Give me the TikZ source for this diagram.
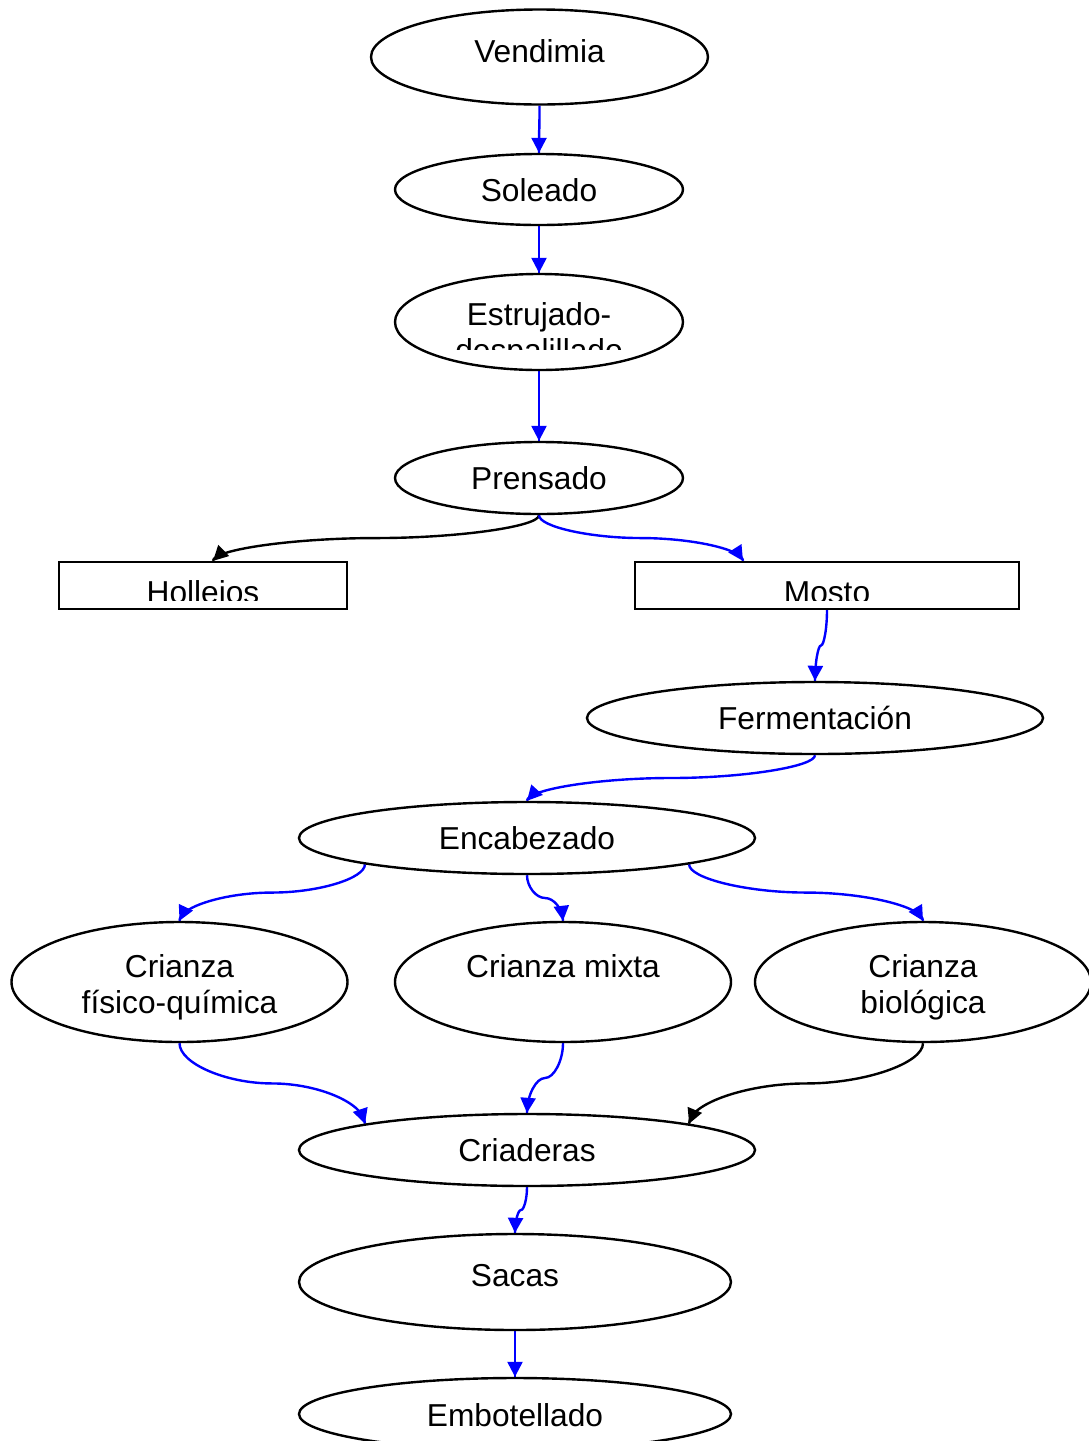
\documentclass[tikz,border=0pt]{standalone}
\usepackage{fontspec}
\setmainfont{Liberation Sans}
\usetikzlibrary{arrows.meta,calc,shapes.geometric,backgrounds}
\definecolor{conblue}{RGB}{0,0,255}
\tikzset{
  ell/.style 2 args={draw, fill=white, ellipse, line width=2.4pt, inner sep=0pt, minimum width=#1, minimum height=#2},
  boxnode/.style 2 args={draw, fill=white, rectangle, line width=2.2pt, inner sep=0pt, minimum width=#1, minimum height=#2},
  txt/.style={anchor=base, inner sep=0pt, align=center, font=\fontsize{31.7}{36}\selectfont},
  bluecon/.style={draw=conblue, line width=2.4pt},
  blackcon/.style={draw=black, line width=2.4pt},
  arrowhd/.style={-{Triangle[length=15pt,width=15pt]}, line cap=butt}
}
\newcommand\wconn[3]{%
  \draw[#1] let \p1=(#2), \p2=(#3) in
    (\p1) .. controls (\x1,{0.75*\y1+0.25*\y2}) and ({0.75*\x1+0.25*\x2},{0.5*\y1+0.5*\y2})
    .. ({0.5*\x1+0.5*\x2},{0.5*\y1+0.5*\y2})
    .. controls ({0.25*\x1+0.75*\x2},{0.5*\y1+0.5*\y2}) and (\x2,{0.25*\y1+0.75*\y2})
    .. coordinate[pos=0.85] (arrtmp) (\p2);
  \draw[#1, arrowhd] (arrtmp) -- (#3);}
\begin{document}
\begin{tikzpicture}[x=1pt,y=-1pt]
\useasboundingbox (0,0) rectangle (1088,1441);

% shapes
\node[ell={337pt}{95pt}] (ven) at (539.5,57) {};
\node[ell={288pt}{71pt}] (sol) at (539,189.5) {};
\node[ell={288pt}{96pt}] (est) at (539,322) {};
\node[ell={288pt}{72pt}] (pre) at (539,478) {};
\node[boxnode={288pt}{47pt}] (hol) at (203,585.5) {};
\node[boxnode={384pt}{47pt}] (mos) at (827,585.5) {};
\node[ell={456pt}{72pt}] (fer) at (815,718) {};
\node[ell={456pt}{72pt}] (enc) at (527,838) {};
\node[ell={336pt}{120pt}] (cfq) at (179.5,982) {};
\node[ell={336pt}{120pt}] (cmx) at (563,982) {};
\node[ell={336pt}{120pt}] (cbi) at (923,982) {};
\node[ell={456pt}{72pt}] (cri) at (527,1150) {};
\node[ell={432pt}{96pt}] (sac) at (515,1282) {};
\node[ell={432pt}{72pt}] (emb) at (515,1414) {};

% texts
\node[txt] (tven) at (539.5,62) {Vendimia};
\node[txt] (tsol) at (539,201) {Soleado};
\begin{scope}
  \clip (396,272) rectangle (682,349);
  \node[txt] (test) at (539,361) {Estrujado-\\despalillado};
\end{scope}
\node[txt] (tpre) at (539,489) {Prensado};
\begin{scope}
  \clip (60,563) rectangle (346,600);
  \node[txt] (thol) at (203,603) {Hollejos};
\end{scope}
\begin{scope}
  \clip (636,563) rectangle (1018,600);
  \node[txt] (tmos) at (827,603) {Mosto};
\end{scope}
\node[txt] (tfer) at (815,729) {Fermentación};
\node[txt] (tenc) at (527,849) {Encabezado};
\node[txt] (tcfq) at (179.5,1013) {Crianza\\físico-química};
\node[txt] (tcmx) at (563,977) {Crianza mixta};
\node[txt] (tcbi) at (923,1013) {Crianza\\biológica};
\node[txt] (tcri) at (527,1161) {Criaderas};
\node[txt] (tsac) at (515,1286) {Sacas};
\node[txt] (temb) at (515,1426) {Embotellado};

% connectors (behind the shapes)
\begin{pgfonlayer}{background}
\fill[white] (0,0) rectangle (1088,1441);
\wconn{bluecon}{ven.south}{sol.north}
\wconn{bluecon}{sol.south}{est.north}
\wconn{bluecon}{est.south}{pre.north}
\wconn{blackcon}{pre.south}{[xshift=10pt]hol.north}
\wconn{bluecon}{pre.south}{[xshift=-84pt]mos.north}
\wconn{bluecon}{mos.south}{fer.north}
\wconn{bluecon}{fer.south}{enc.north}
\wconn{bluecon}{enc.south west}{cfq.north}
\wconn{bluecon}{enc.south}{cmx.north}
\wconn{bluecon}{enc.south east}{cbi.north}
\wconn{bluecon}{cfq.south}{cri.north west}
\wconn{bluecon}{cmx.south}{cri.north}
\wconn{blackcon}{cbi.south}{cri.north east}
\wconn{bluecon}{cri.south}{sac.north}
\wconn{bluecon}{sac.south}{emb.north}
\end{pgfonlayer}
\end{tikzpicture}
\end{document}
